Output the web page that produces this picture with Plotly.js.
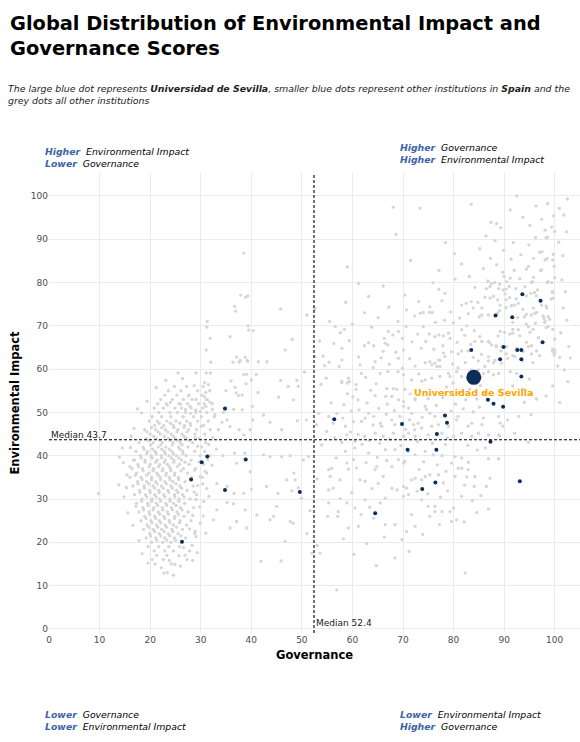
<!DOCTYPE html>
<html><head><meta charset="utf-8">
<script src="https://cdn.plot.ly/plotly-3.0.1.min.js"></script>
<style>html,body{margin:0;padding:0;background:#fff;} #chart{width:580px;height:742px;}</style>
</head><body><div id="chart"></div>
<script>
// ---- data ----
const medianGov = 52.4;
const medianEnv = 43.7;
const sevillaName = 'Universidad de Sevilla';
const countryName = 'Spain';
const sevillaGov = [84.0];
const sevillaEnv = [58.1];
const spainGov = [93.6,97.2,88.3,91.6,97.6,89.9,83.5,92.6,93.4,89.2,93.4,93.4,86.8,87.9,89.8,78.3,78.7,69.8,76.7,87.3,70.9,76.6,76.4,93.1,73.8,56.4,64.5,34.8,31.3,30.2,38.9,28.1,34.8,49.6,26.3];
const spainEnv = [77.3,75.8,72.4,72.0,66.2,65.1,64.4,64.4,64.4,62.3,62.3,58.3,52.9,52.0,51.3,49.3,47.6,47.3,45.0,43.2,41.4,41.4,33.8,34.1,32.3,48.4,26.7,50.9,39.8,38.5,39.1,34.5,32.1,31.6,20.1];
const xTicks = [0,10,20,30,40,50,60,70,80,90,100];
const yTicks = [0,10,20,30,40,50,60,70,80,90,100];

// grey cloud, left cluster: [environmental impact, [governance values]]
const greyLeftRows = [
 [56,[24.8,27.2,30.5]],[55,[23.6,26.1,29.4,31.8]],[54,[22.9,25.3,27.7,30.2]],[53,[22.1,24.4,26.6,28.3,31.1]],
 [52,[21.5,23.2,25.7,27.4,29.6,32.3]],[51,[20.8,22.6,24.9,26.2,28.1,30.4]],[50,[21.7,23.9,25.4,27,29,31.2]],
 [49,[20.4,22.3,24.1,26.5,28.6,30.1,32.7]],[48,[19.8,21.4,23.3,25.1,27.2,29.4,31.5]],[47.5,[21.8,24,25.9,27.9]],
 [47,[20.9,22.7,24.6,26.8,28,30.6]],[46.5,[20.3,22.3,24.7,26.7]],[46,[18.9,21.1,23,25.5,27.6,29.2,31.9]],
 [45.5,[19.4,21.6,23.5,25.3,27.3]],[45,[20,22,24.2,26.3,28.9,30.8]],[44.5,[20.7,22.8,24.6,26.7]],
 [44,[19.2,21.2,23.6,25,27.1,29.7]],[43.5,[19.7,21.9,23.9,25.5,27.7]],[43,[17.8,20.6,22.4,24.5,26,28.4,31]],
 [42.5,[20.1,22.1,24.4,26.3]],[42,[18.6,21.6,23.1,25.6,27.5,30.2]],[41.5,[18.8,20.5,22.3,23.8,25.9]],
 [41,[17.2,19.5,21,22.8,24.3,26.4,28.8]],[40.5,[19.3,21.2,23,24.6,26.5]],[40,[18.1,20.2,22.2,23.7,25.2,27.1,29.9,31.8]],
 [39.5,[18.2,20.4,22.3,24.2,25.7]],[39,[16.9,19,21.4,23,24.7,26.2,28.1]],[38.5,[19,21.1,22.8,24.7,26.9]],
 [38,[17.6,20,21.9,23.4,25.8,27.7,30.6]],[37.5,[17.7,19.8,21.7,23.8,25.4]],[37,[16.4,18.5,20.7,22.5,24,26.6,29]],
 [36.5,[18.6,20.6,22.4,24.1,26.1]],[36,[17.3,19.7,21.3,23.2,24.9,27.4]],[35.5,[17.1,19.3,21.6,23.1,24.8]],
 [35,[16,18.2,20.3,22,23.8,25.6,28.2,30.3]],[34.5,[18.4,20.3,22.1,23.9,25.6]],[34,[17.5,19.3,21.1,22.9,24.5,26.9]],
 [33.5,[17.6,19.7,21.4,23.2,25.1]],[33,[16.6,18.8,20.6,22.2,24.1,25.9,28.5]],[32.5,[18.9,20.9,22.6,24.4,26.2]],
 [32,[17.9,19.9,21.7,23.5,25.2,27.3]],[31.5,[18,20,21.8,23.7,25.5]],[31,[16.9,19.1,20.9,22.7,24.8,26.4,29.2]],
 [30.5,[19.3,21.2,22.9,24.9,26.7]],[30,[18.4,20.4,21.9,23.9,25.7,27.9]],[29.5,[18.3,20.3,22.1,23.9,25.7]],
 [29,[17.3,19.5,21.2,23.1,24.6,26.8]],[28.5,[19.6,21.5,23.3,25.1]],[28,[18.6,20.7,22.4,24.2,26,28.6]],
 [27.5,[18.7,20.6,22.5,24.4,26.3]],[27,[17.8,19.8,21.6,23.4,25.3,27.5]],[26.5,[19.9,21.9,23.6,25.6]],
 [26,[18.9,20.9,22.7,24.9,26.7]],[25.5,[19.2,21.1,22.9,24.8]],[25,[18.2,20.1,21.8,23.8,25.9,28.1]],
 [24.5,[20.4,22.1,23.9,25.8]],[24,[19.4,21.3,23,24.6,27.2]],[23.5,[19.7,21.5,23.2,25.2]],[23,[18.7,20.6,22.3,24.3,26.4]],
 [22.5,[20.9,22.8,24.5]],[22,[19.9,21.8,23.6,25.5,28.8]],[21.5,[20.1,22.1,23.9,26.1]],[21,[19.2,21.1,22.9,24.8,27]],
 [20.5,[21.3,23.3,25]],[20,[20.3,22.5,24.1,26.2]],[19,[19.6,21.7,23.7,25.8]],[18,[20.8,22.9,24.6,27.8]],
 [17,[21.3,23.3,26.9]],[16,[20.4,22.6,27.3]],[15,[21,24.2]],[13,[23.4]]
];

// grey cloud, left cluster fringe: [governance, environmental impact]
const greyLeftFringe = [
 [28.9,44.1],[30.1,46.8],[29.4,42.2],[31.4,39.1],[29.7,38.6],[28.8,36.7],[30.9,36.4],[29.4,33.1],[31.2,32.4],[28.7,31.6],[30.6,29.4],
 [29.1,29.9],[28.4,26.2],[29.9,24.4],[27.8,23.1],[28.9,22.5],[26.6,18.8],[25.7,16.9],[24.9,14.9],[23.8,15.8],[22.7,12.9],[15.3,32.6],
 [14.7,38.4],[16.1,41.9],[16.8,46.3],[18.3,49.9],[19.4,52.6],[21.2,55.7],[23.1,57.4],[26.4,57.8],[28.7,56.2],[17.2,28.3],[16.6,23.9],
 [17.8,20.4],[18.4,17.4],[19.6,15.2]
];

// grey cloud, middle band: [governance, environmental impact]
const greyMid = [
 [38.5,86.8],[37.9,77.1],[39.3,76.9],[38.9,76.6],[36.7,74.5],[36.9,73.4],[45.8,73.9],[51,72.5],[52.5,73.7],[31.3,71],[31.2,69.7],
 [39.4,70],[39.5,69],[40.4,68.9],[31.9,67.1],[35.8,67.5],[48.1,66.9],[46.7,64.4],[31.1,64.4],[37.1,62.8],[37.8,62],[38.8,62.7],
 [39.3,61.8],[36.4,61.6],[37.6,61.6],[39.2,62],[32,61.6],[41.4,61.7],[43.1,61.7],[25.5,59.1],[29.1,59.1],[31.1,59.1],[31.9,59.1],
 [38.5,58.8],[39.1,58.8],[41,58.8],[50.5,59.3],[30.8,56.9],[31.5,56.4],[31,54.6],[30.7,53.7],[31.3,52.9],[31.8,52.4],[30.7,52],
 [36,57.3],[36.8,55.8],[35,55],[37,54.5],[37.5,53.9],[40,57.5],[39,56.6],[38.2,54],[45.8,57.4],[47.3,56],[49,57.4],[49.3,56],
 [41.3,54.6],[45.4,53.5],[48.3,52.9],[24,52.3],[23.4,51.7],[26,51.9],[27.9,51.4],[27.6,53.8],[29.1,53],[27,50.7],[29,50.5],
 [28,49.8],[26.5,49],[29.9,50.2],[31,51.4],[32.3,50.7],[32.8,49.5],[34.8,50.7],[36.5,50.7],[38.2,50.6],[40.2,51.4],[42.4,49.4],
 [43.7,47.7],[46,46],[49.1,48.1],[50.9,48.3],[40.3,48.3],[39.8,46],[38.5,44.8],[37.6,46],[34.5,50],[35.2,48.3],[34.2,47.7],
 [35.8,46.7],[33.5,46],
 [9.8,31.3],[13.8,33.3],[13.9,39.7],[16.7,39],[16,37.5],[15.4,35.6],[14.8,30.5],[15.6,26.8],[16.2,44.5],[17.5,50.8],[14.5,41.8],
 [34.4,40],[36.7,40.6],[39.8,36.3],[42.4,40.2],[43.7,39.8],[46,39.8],[47.7,40],[48.4,36],[47,34.4],[48.7,34.4],[43,32.9],
 [45.3,31.3],[45,28.3],[43.7,25.2],[44.4,26],[48.3,24.4],[47.7,24.8],[46.7,20.2],[41.9,15.6],[45.9,15.7],[51,22],[52,17.5],
 [39.1,23.3],[38.8,27.5],[41.1,26.3],[37.1,24.8],[35.8,23.3],[35.2,29.2],[36.5,28.9],[33.2,27.5],[32.5,25.2],[31,22.1],[29.1,21.3],
 [33.2,33.6],[35.2,32.9],[36.6,31.3],[31.2,36],[29.9,35.2],[38.5,31.3],[40,32.3],[38.7,40.6],[37.1,38.3],[50.3,39],[51.3,39.8],
 [49.3,32.6],[48,31.9],[49.9,30.2],[51.6,27.3],
 [32.4,44.2],[31.6,42.6],[33.1,41.5],[30.8,41],[32.2,37.8],[30.4,33.5],[31.6,30.6],[29.8,28.2],[30.5,26.1],[28.3,19.3],[29.3,17.6],
 [26,14.5],[24.6,12.4],[22.2,14.1],[28.4,15.8],
 [53.5,66.5],[54.2,63],[55.5,71],[53.8,56.5],[55.8,52.2],[54.5,60.8],[52.9,47.2]
];

// grey cloud, right cluster: [governance, environmental impact]
const greyRight = [
 [68.1,97.4],[73.4,97.2],[68.6,91.1],[83.5,98.1],[92.5,100],[96.3,97.7],[98.6,98.2],[99.8,95.4],[87.4,93.9],[88.5,93.6],[88.2,89.7],
 [85.2,87.8],[98.1,92.1],[98.6,90.5],[98.3,90.3],[100,91.8],[99.4,92.8],[97,87],[97.5,87.1],[98.5,85.5],[99.7,86.5],[99.9,83.7],
 [99.6,85.2],[91.4,85.4],[88.5,84.1],[92,82.8],[94.4,83.1],[97.2,82.8],[100,81.1],[99.4,80],[98.5,80],[95.6,80.2],[96.6,78.3],
 [89.7,82.4],[90,81.4],[90.5,80.2],[91.2,81],[91,79.1],[89.8,78.3],[88.9,78.6],[90.2,77.4],[86.8,80.2],[87.5,79.7],[88.1,80],
 [87.2,79.1],[86.5,78.6],[86.2,76.6],[87.2,76.4],[87.9,76.8],[88.7,76],[89.2,74.8],[90.4,76],[91.5,74.7],[92.1,74.8],[92.8,75.2],
 [80.3,80.8],[81.6,74.8],[82.5,75.2],[83.5,75.6],[84.8,75.4],[83.9,74.1],[85.6,74.1],[85.1,72.1],[85.6,72.5],[86.9,72.5],[88.7,72.9],
 [77.1,82.8],[75.9,80],[77.1,78.4],[78.3,77.5],[71.5,85.1],[59,83.6],[70.7,73.7],[72.3,72.3],[73.4,72.9],[74,73.1],[75.2,73.1],
 [75.8,73.1],[75.3,74.4],[77.7,75.8],[62.4,73],[69,71],[60,70.4],[56.6,69.8],[57.6,68.4],[58.4,69.2],[57.9,64.8],[57.4,60.6],
 [62.4,65.4],[63.2,66.1],[64.2,65.4],[63.8,69.7],[66.3,67.1],[67.1,68.7],[68,67.9],[69.1,68.7],[69.9,67.1],[66.5,66],[67,65.6],
 [66.1,64.1],[64.5,61.7],[61.5,61],[69.1,62.5],[70.1,64.4],[70.6,69.8],[74,69.8],[75.2,68.1],[76.3,67.5],[77.1,67.9],[78,67.7],
 [79,68.3],[79.3,67.1],[73.6,64.8],[74.4,61.5],[75.3,61.7],[76.3,61.4],[77.3,62.1],[78,63.7],[78.3,62.9],[79.6,64],[80,70.7],
 [81.6,69.1],[82.6,70],[84.1,68.9],[85.2,67.5],[84.2,66.4],[85.6,66.4],[86.9,66.4],[87.5,65.6],[88.5,65.2],[89.5,65.2],[90.5,65.2],
 [92.5,64.8],[93.8,64.1],[94.8,65.2],[86.9,62.9],[88.2,62.1],[89.5,61.4],[90.7,62.5],[92.1,62.9],[89.2,68.7],[91.7,68.3],[92.8,69.1],
 [95.1,68.5],[96.8,67.3],[99.6,64.1],[99.9,63.3],[100,64.4],[54.8,57.9],[59.2,57.9],[59.4,57.1],[57.9,56.9],[61.8,59],[65.5,59],
 [67,59.4],[69,59.4],[69.9,60.2],[70.1,58.7],[71.7,57.5],[74.4,57.5],[75.7,57.9],[77.3,58.3],[79,59],[79.3,58.3],[80.6,59.4],
 [81.6,58.3],[85.9,59],[86.9,59.4],[87.9,58.7],[88.9,59],[91.2,59.4],[92.5,59],[77,62.1],[75.7,61],[76.7,60.6],[77.3,60.6],
 [80.9,63.5],[81.6,64.2],[82.9,64.2],[83.9,62.7],[84.9,61.9],[85.5,63.4],[86.9,61.9],[87.9,61.5],[82.3,61.5],[80.9,60.3],
 [83.5,59.8],[84.9,59.8],[86.2,60.6],[52.6,74],[52.6,62.9],
 [95.8,74.1],[96.1,72.9],[97.4,74.8],[98.4,74.1],[97.9,71.7],[98.7,72.1],[99.7,76.4],[99.5,77.9],[98.1,71],[96.2,70.6],[95.4,72.5],
 [94,72.1],[94.8,69.8],[98.7,69.8],[96.4,76.9],[95.3,77.5],[94.1,79.1],[95.8,81.2],[94.8,83.7],[97.4,82.9],[98.1,85.2],
 [86.8,80.4],[88.1,80],[89.1,79.6],[90.4,78.5],[91.1,76.5],[92.4,76.2],[94.4,76.9],[95.4,80],[96,77.7],[98.7,80.2],[99.6,77.7],
 [99.3,76.2],[98.3,74.6],[96.4,73.1],[97.7,72.3],[99,71.5],[98,70.8],[98.3,69.6],[99.6,69.2],[100,66.9],[99.6,64.6],[100,63.8],
 [101,62.7],[95.7,69.2],[94.4,70.4],[91.7,69.2],[93.1,67.7],[94.4,66.2],[95.4,65.4],[96.4,64.2],[97,63.1],[95.7,61.5],[93.7,61.9],
 [91.7,63.1],[90.4,63.5],[89.4,64.2],[88.4,65.4],[87.1,66.2],[88.8,67.7],[90.1,68.5],[91.1,68.1],[92.7,71.9],[93.7,73.8],[91.4,74.6],
 [90.4,74.2],[89.1,73.5],[94.4,72.7],[91.7,70.8],[95.4,63.5],
 [95,57.7],[91.7,56.1],[93.7,55.4],[95.4,54.2],[96.4,53.1],[98.3,53.8],[99.6,56.1],[101,52.3],
 [57.9,57.2],[59,56.8],[60.7,56.4],[64.7,56.6],[60.7,55.3],[59,54.3],[61.1,52.9],[64.5,53.9],[66.8,55.5],[68.1,55.5],[68.8,55.3],
 [70.4,55.3],[71.4,54.3],[72.4,53.2],[70.1,52.5],[69.1,52.9],[67.8,53.7],[66.6,53.7],[70.1,51.4],[71.1,51],[73.7,57.2],[75,53.2],
 [74.4,51.4],[72.4,52.9],
 [53.3,49.8],[55.3,49.1],[56.9,49.8],[56.2,47.5],[58.6,46.8],[60.2,47.9],[61.8,47.9],[63.2,49.8],[62.5,48.7],[64.2,49.1],[65.5,47.5],
 [65.8,46.8],[67.8,48.3],[68.4,47.2],[71.7,49.8],[72.1,47.2],[73,47.5],[73.7,46.4],[72.3,46],[75.3,49.8],[76.3,49.1],[75.7,46.8],
 [77,47.2],[79,46.8],[80.6,48.3],[80.9,49.1],[82.9,46.8],[83.6,47.5],[85.6,47.2],[85.9,48.7],[88.9,49.1],[89.2,47.5],[90.7,48.3],
 [92.9,49.1],[94,52.3],[95.3,49.5],[92.1,45.2],[94.8,43.1],[88.9,44.8],[86.9,44.8],[84.9,45.2],[83.6,44.5],[81.6,45.2],[80,44.5],
 [78.8,44.1],[77.7,45.2],[75,44.8],[72.4,44.5],[71.1,45.2],[70.1,44.5],[68.1,45.2],[66.1,44.5],[64.5,45.2],[62.4,44.5],[60.5,43.3],
 [58.9,44.8],[54.9,45.6],[89.8,46.8],
 [53.9,42.5],[58.6,41],[60.5,41.8],[63.2,40.6],[66.5,41.4],[68.4,41.4],[69.1,39.1],[70.1,38.3],[70.4,38.7],[71.1,41],[72.4,40.2],
 [74.4,41],[76,40.2],[77.7,40],[80.3,39.8],[81.6,39.5],[82.9,38.5],[79.6,38.3],[80.9,37.1],[82.6,35.1],[84.2,35.2],[86.9,39.3],
 [88.9,39.3],[87.2,34.8],[86.5,32.9],[84.1,32.9],[81.6,30.6],[80,27.9],[79.3,27.1],[80.6,25.2],[79.6,24.8],[86.9,27.7],[82.3,12.9],
 [68.4,16.4],[56.9,9],[53.6,17.5],[53,19.3],[55.1,26],[57.1,26],[59.2,23.3],[61.2,23.7],[64.2,25.6],[66.5,24.1],[68.4,24.1],
 [70.7,22.5],[71.7,26.4],[72.4,23.7],[75.3,26],[76.3,27.1],[77.7,27.1],[76.3,28.3],[75,28.3],[73.7,29.8],[71.1,31],[70.1,30.6],
 [70.7,32.5],[70.1,32.9],[68.8,32.1],[67.8,32.5],[66.5,30.2],[65.5,29.1],[62.5,29.8],[60.5,27.9],[58.9,29.1],[55.3,29.1],[57.2,27.1],
 [55.3,32.1],[56.2,32.5],[57.6,34.4],[55.6,35.2],[53,34.6],[55.3,36.8],[55.9,37.1],[59.2,36.9],[58.9,38.3],[60.2,39.1],[61.5,34.4],
 [62.5,34.1],[64.5,36.8],[64.8,37.5],[66.1,35.2],[67.8,37.5],[71.7,34.4],[72.4,34.8],[73.7,34.4],[74.4,35.2],[75.3,35.6],[77,35.6],
 [78,33.7],[80.3,35.2],[81.6,37.1],[82.9,36.8],[89.1,44.6],
 [56.8,39.5],[57.9,43.1],[59.6,45.5],[61.3,50.6],[62.9,52.2],[58.3,51.8],[60.1,53.6],[63.6,55.1],[65.2,50.9],[66.7,49.6],[64.1,47.1],
 [61.9,42.6],[63.3,43.5],[65.4,42.9],[60.8,37.2],[62.7,38.4],[64.9,39.6],[56.5,44.2],[58.1,48.7],[59.8,50.3],[61.1,44.9],[63.9,32.4],
 [59.9,31.5],[57.6,30.1],[61.7,26.4],[63.4,28.1],[65.1,33.6],[66.8,38.9],[67.4,43.8],[69.6,42.3],[68.3,50.4],[66.9,51.9],[69.4,49.1],
 [71.3,48.3],[70.5,46.1],
 [72.9,43.2],[73.8,48.9],[74.6,50.7],[76.6,51.6],[77.9,53.4],[78.6,55.9],[79.9,56.8],[81.1,54.6],[82.4,52.9],[83.2,55.4],[84.6,53.1],
 [85.3,56.2],[86.1,54.4],[81.9,50.8],[80.4,51.9],[79.5,50.3],[83.9,50.1],[85.1,51.2],[82.8,42.4],[84.7,41.3],[86.3,41.8],[78.4,42.6],
 [75.8,42.9],[74.1,38.6],[76.8,37.9],[78.5,36.4],[73.2,36.8],[72.8,31.8],[74.9,31.2],[77.4,30.4],[78.8,31.9],[82.2,33.2],[83.7,29.6],
 [85.4,30.8],[84.6,26.9],[82.1,24.7],[77.2,24.1],[73.9,21.8],[69.8,20.6],[66.3,21.2],[62.8,19.7],[58.2,20.8],[60.3,17.2],[64.7,14.6],
 [71.2,17.9],
 [61.2,62.8],[62.6,58.1],[64.1,60.4],[65.7,62.6],[67.3,61.1],[68.6,63.9],[71.3,62.4],[72.4,60.7],[73.1,58.9],[71.8,66.3],[72.9,68.1],
 [74.5,66.4],[76.1,64.6],[77.9,65.4],[79.8,61.2],[80.7,66.2],[82.2,67.8],[83.4,65.7],[81.2,71.8],[82.9,72.8],[79.4,73.2],[78.2,71.3],
 [76.4,70.8],[73.1,75.6],[70.4,77.1],[67.2,74.3],[65.1,71.9],[63.2,76.8],[66.1,79.2],[61.2,79.8],[58.7,75.4],[56.3,65.9],[55.4,61.6],
 [57.9,62.1],[59.4,66.6],
 [85.9,83.2],[87.3,85.6],[89.9,87.4],[91.8,89.2],[93.3,86.4],[94.9,88.7],[96.2,90.4],[95.1,93.2],[93.7,95.1],[91.2,96.8],[97.4,94.6],
 [100.8,89.3],[101.6,86.2],[102.3,91.7],[101.8,95.6],[102.5,99.3],[100.9,97.1],[95.8,85.6],[93.1,80.9],[92.3,78.6],[84.2,78.9],
 [83.1,81.4],[81.6,84.3],[80.2,86.7],[78.4,89.2],[86.4,90.8],[89.3,92.7],
 [101.4,80.6],[102.1,77.9],[101.7,74.1],[102.4,71.3],[101.2,68.4],[102.8,65.2],[101.9,59.8],[102.6,57.1],[100.6,60.7],[103.1,62.6]
];

// ---- build traces ----
const greyGov = [], greyEnv = [];
greyLeftRows.forEach(r => r[1].forEach(g => { greyGov.push(g); greyEnv.push(r[0]); }));
greyLeftFringe.concat(greyMid, greyRight).forEach(p => { greyGov.push(p[0]); greyEnv.push(p[1]); });

const FONT = 'DejaVu Sans';
const navy = '#0b2d59';
const hiBlue = '#3d64a6';

const traces = [
  {type:'scatter', mode:'markers', x:greyGov, y:greyEnv, name:'Other institutions',
   marker:{size:3.3, color:'#d6d6d6'}, hoverinfo:'skip'},
  {type:'scatter', mode:'markers', x:spainGov, y:spainEnv, name:countryName,
   marker:{size:4, color:navy}, hoverinfo:'skip'},
  {type:'scatter', mode:'markers', x:sevillaGov, y:sevillaEnv, name:sevillaName,
   marker:{size:15, color:navy}, hoverinfo:'skip'}
];

// ---- layout helpers (pixel -> paper) ----
const Wd = 580, Ht = 742, L = 49, R = 0, T = 173, B = 109;
const PW = Wd - L - R, PH = Ht - T - B;
const px = v => (v - L) / PW;
const py = v => 1 - (v - T) / PH;

function corner(xp, ytop, a, b) {
  return {xref:'paper', yref:'paper', x:px(xp), y:py(ytop), xanchor:'left', yanchor:'top', align:'left',
    showarrow:false, font:{family:FONT, size:9.3, color:'#000'},
    text:'<i><b><span style="color:'+hiBlue+'">'+a[0]+'</span></b>&nbsp; '+a[1]+'<br><b><span style="color:'+hiBlue+'">'+b[0]+'</span></b>&nbsp; '+b[1]+'</i>'};
}

const layout = {
  width:Wd, height:Ht, paper_bgcolor:'#fff', plot_bgcolor:'#fff', showlegend:false, hovermode:false,
  margin:{l:L, r:R, t:T, b:B, pad:0},
  title:{text:'<b>Global Distribution of Environmental Impact and<br>Governance Scores</b>',
    font:{family:FONT, size:19.4, color:'#000'}, xref:'container', yref:'container',
    x:10/Wd, xanchor:'left', y:1-30/Ht, yanchor:'top'},
  xaxis:{range:[0,105], tickvals:xTicks, ticktext:xTicks.map(String), showgrid:true, gridcolor:'#ebebeb', gridwidth:1,
    zeroline:false, showline:false, ticks:'', tickfont:{family:FONT, size:9, color:'#4d4d4d'}, automargin:false, fixedrange:true,
    title:{text:'<b>Governance</b>', font:{family:FONT, size:11.5, color:'#000'}, standoff:6}},
  yaxis:{range:[-0.95,105.3], tickvals:yTicks, ticktext:yTicks.map(String), showgrid:true, gridcolor:'#ebebeb', gridwidth:1,
    zeroline:false, showline:false, ticks:'', tickfont:{family:FONT, size:9, color:'#4d4d4d'}, automargin:false, fixedrange:true,
    title:{text:'<b>Environmental Impact</b>', font:{family:FONT, size:11.5, color:'#000'}, standoff:8}},
  shapes:[
    {type:'line', xref:'paper', x0:0, x1:1, yref:'y', y0:medianEnv, y1:medianEnv, line:{color:'#000', width:1.1, dash:'3px,2px'}},
    {type:'line', xref:'x', x0:medianGov, x1:medianGov, yref:'paper', y0:0, y1:1, line:{color:'#000', width:1.1, dash:'3px,2px'}}
  ],
  annotations:[
    {xref:'paper', yref:'paper', x:px(6), y:py(81), xanchor:'left', yanchor:'top', align:'left', showarrow:false,
     font:{family:FONT, size:9.4, color:'#222'},
     text:'<i>The large blue dot represents <b>'+sevillaName+'</b>, smaller blue dots represent other institutions in <b>'+countryName+'</b> and the<br>grey dots all other institutions</i>'},
    corner(43, 144, ['Higher','Environmental Impact'], ['Lower','Governance']),
    corner(398, 140, ['Higher','Governance'], ['Higher','Environmental Impact']),
    corner(43, 707, ['Lower','Governance'], ['Lower','Environmental Impact']),
    corner(398, 707, ['Lower','Environmental Impact'], ['Higher','Governance']),
    {xref:'x', yref:'y', x:sevillaGov[0], y:sevillaEnv[0], yshift:-15, xanchor:'center', yanchor:'middle', showarrow:false,
     text:'<b>'+sevillaName+'</b>', font:{family:FONT, size:9.5, color:'#FFA500'}},
    {xref:'x', yref:'y', x:0, y:medianEnv, xanchor:'left', yanchor:'bottom', showarrow:false, yshift:-2,
     text:'Median '+medianEnv, font:{family:FONT, size:9, color:'#222'}},
    {xref:'x', yref:'y', x:medianGov, y:1.4, xanchor:'left', yanchor:'middle', showarrow:false,
     text:'Median '+medianGov, font:{family:FONT, size:9, color:'#222'}}
  ]
};

Plotly.newPlot('chart', traces, layout, {staticPlot:true, displayModeBar:false});
</script>
</body></html>
